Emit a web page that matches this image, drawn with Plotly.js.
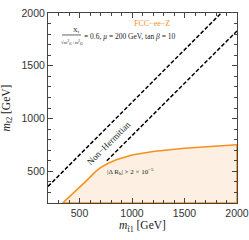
<!DOCTYPE html>
<html><head><meta charset="utf-8">
<script src="https://cdn.plot.ly/plotly-3.0.1.min.js"></script>
<style>html,body{margin:0;padding:0;background:#fff}#c{width:249px;height:240px}</style>
</head><body><div id="c"></div>
<script>
// Data
const boundX = [340, 450, 560, 650, 700, 760, 850, 1000, 1200, 1500, 1750, 2000];
const boundY = [200, 300, 405, 495, 535, 570, 610, 655, 688, 718, 737, 752];
const upperX = [200, 1850];
const upperY = [357, 2000];
const lowerX = [760, 2000];
const lowerY = [600, 1830];
const tickVals = [500, 1000, 1500, 2000];
const tickText = ["500", "1000", "1500", "2000"];

const orange = "#f7901e";
const serif = "Liberation Serif, Times New Roman, serif";

const fillX = boundX.concat([boundX[boundX.length-1], boundX[0]]);
const fillY = boundY.concat([200, 200]);

const traces = [
  {x: fillX, y: fillY, type: "scatter", mode: "lines", fill: "toself",
   fillcolor: "rgb(254,239,227)", line: {color: orange, width: 1.6}, hoverinfo: "skip"},
  {x: upperX, y: upperY, type: "scatter", mode: "lines",
   line: {color: "#000", width: 1.5, dash: "4px,2px"}},
  {x: lowerX, y: lowerY, type: "scatter", mode: "lines",
   line: {color: "#000", width: 1.5, dash: "4px,2px"}}
];

const axisCommon = {
  range: [200, 2000], tickvals: tickVals, ticktext: tickText,
  ticks: "inside", ticklen: 5, tickwidth: 1, tickcolor: "#444",
  showline: true, linecolor: "#444", linewidth: 1, mirror: "ticks",
  showgrid: false, zeroline: false,
  tickfont: {family: "Liberation Sans, Arial, sans-serif", size: 10.5, color: "#333"},
  minor: {dtick: 100, tick0: 0, ticks: "inside", ticklen: 3, tickcolor: "#444", showgrid: false}
};

const layout = {
  width: 249, height: 240,
  margin: {l: 48, r: 12, t: 13, b: 37},
  paper_bgcolor: "#fff", plot_bgcolor: "#fff",
  showlegend: false,
  xaxis: Object.assign({}, axisCommon, {
    title: {text: "<i>m</i><sub>t̃1</sub> [GeV]", standoff: 3,
            font: {family: serif, size: 11.5, color: "#222"}}
  }),
  yaxis: Object.assign({}, axisCommon, {
    title: {text: "<i>m</i><sub>t̃2</sub> [GeV]", standoff: 9,
            font: {family: serif, size: 11.5, color: "#222"}}
  }),
  annotations: [
    {x: 1195, y: 1896, xref: "x", yref: "y", text: "FCC−ee−Z", showarrow: false,
     font: {family: serif, size: 8, color: orange}},
    {x: 471, y: 1838, xref: "x", yref: "y", text: "X<sub>t</sub>", showarrow: false,
     font: {family: serif, size: 6.5, color: "#222"}},
    {x: 424, y: 1722, xref: "x", yref: "y",
     text: "√<i>m</i><sup>2</sup><sub>t̃1</sub>+<i>m</i><sup>2</sup><sub>t̃2</sub>", showarrow: false,
     font: {family: serif, size: 5, color: "#222"}},
    {x: 524, y: 1778, xref: "x", yref: "y", xanchor: "left",
     text: "= 0.6, <i>μ</i> = 200 GeV, tan <i>β</i> = 10", showarrow: false,
     font: {family: serif, size: 7.5, color: "#222"}},
    {x: 990, y: 494, xref: "x", yref: "y",
     text: "|Δ R<sub>b</sub>| > 2 × 10<sup>−5</sup>", showarrow: false,
     font: {family: serif, size: 7, color: "#222"}},
    {x: 780, y: 768, xref: "x", yref: "y", text: "Non−Hermitian", textangle: -45,
     showarrow: false, font: {family: serif, size: 9, color: "#222"}}
  ],
  shapes: [
    {type: "line", xref: "x", yref: "y", x0: 333, x1: 514, y0: 1792, y1: 1792,
     line: {color: "#222", width: 0.7}}
  ]
};

Plotly.newPlot("c", traces, layout, {displayModeBar: false, staticPlot: true});
</script></body></html>
